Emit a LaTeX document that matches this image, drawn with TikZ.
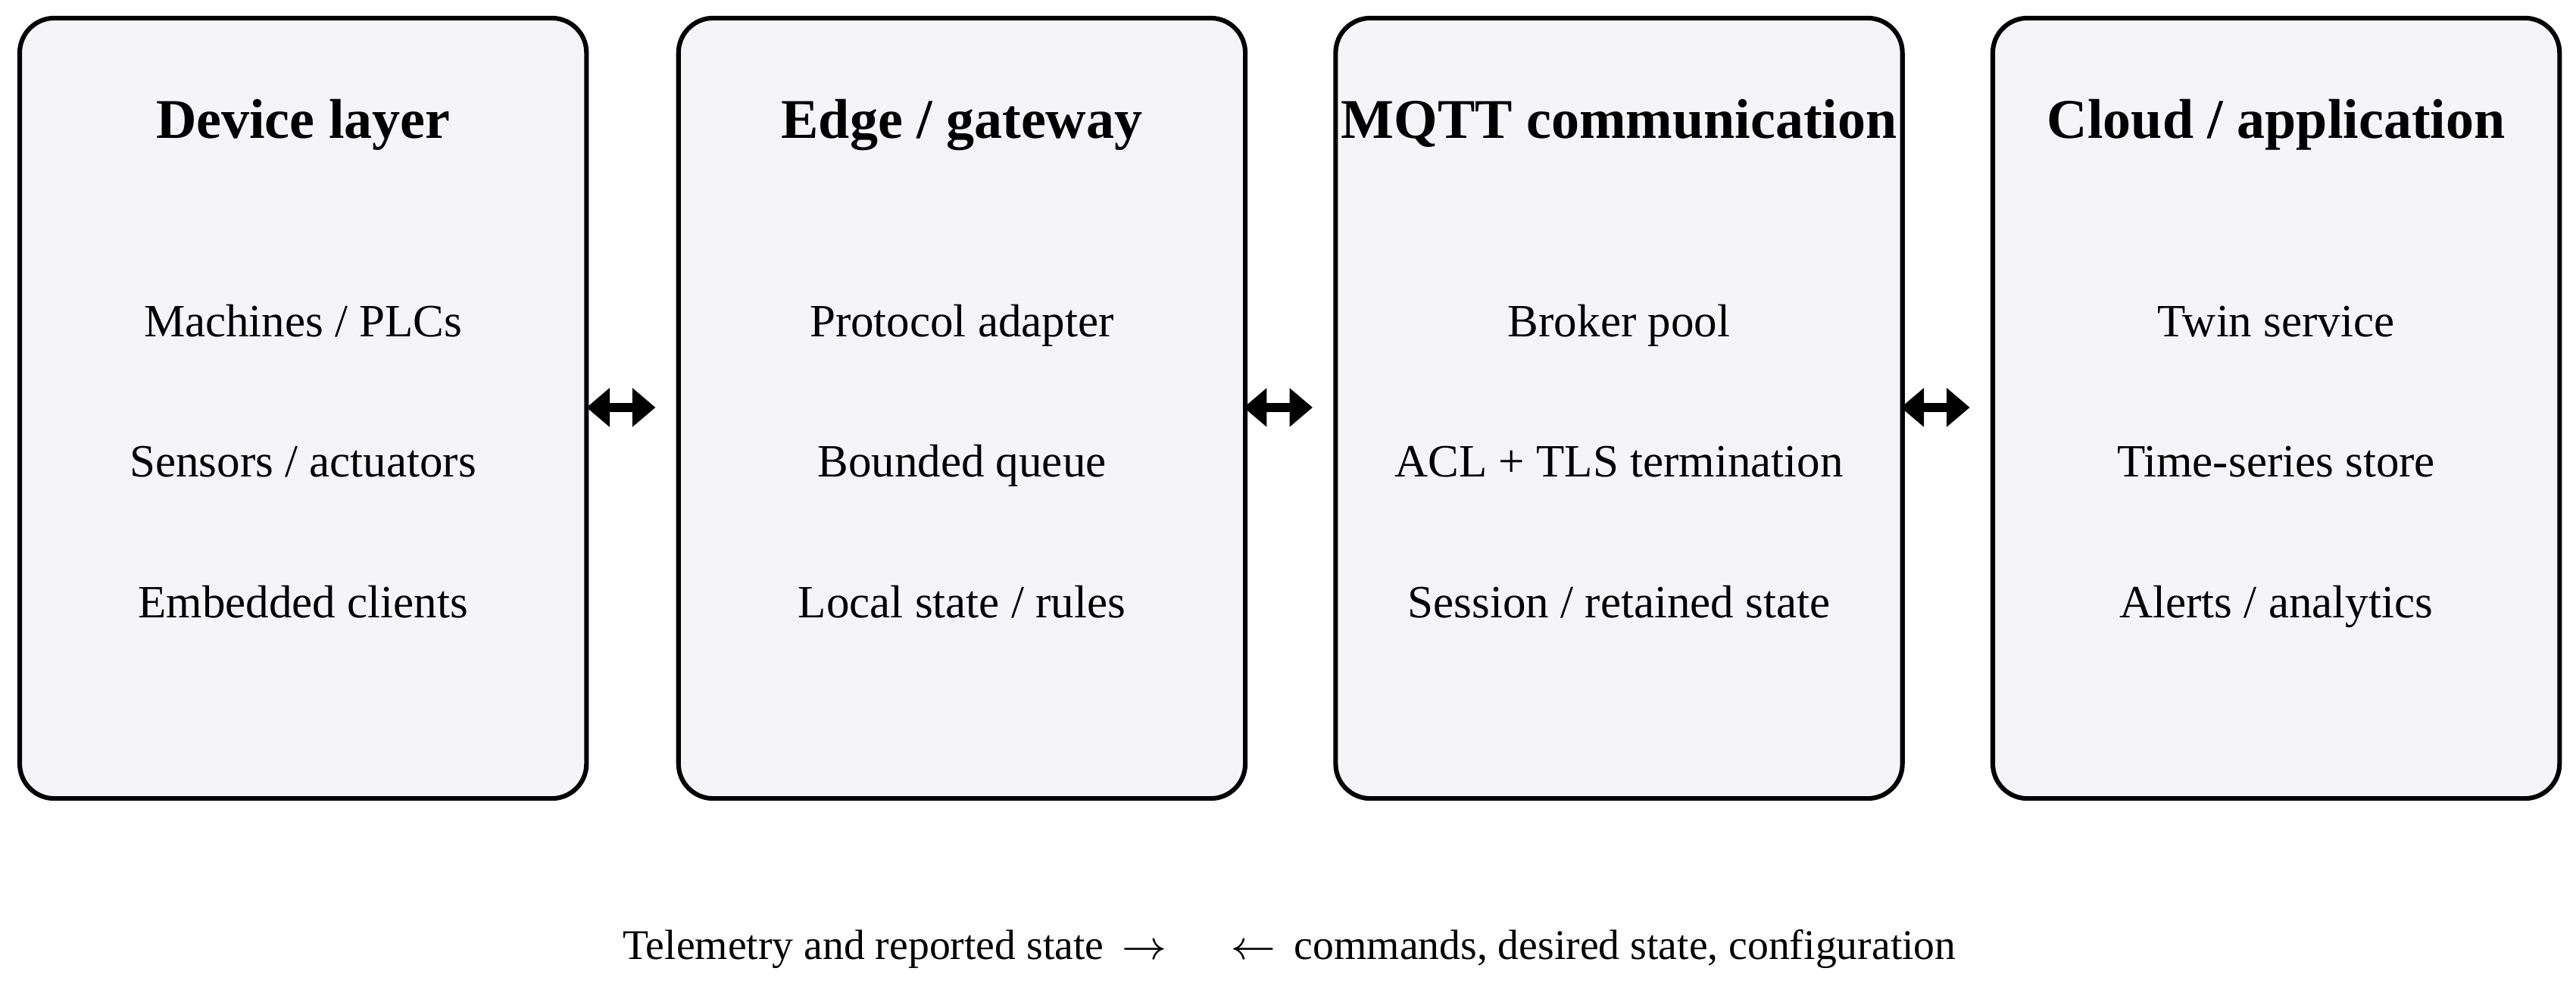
\documentclass[tikz,border=0pt]{standalone}
\usepackage{fontspec}
\setmainfont{Liberation Serif}
\usetikzlibrary{arrows.meta}
\newcommand{\slh}{/}
\definecolor{boxfill}{HTML}{F5F5F7}
\begin{document}
\begin{tikzpicture}[x=0.01cm,y=-0.01cm,
  box/.style={draw=black,line width=0.8pt,fill=boxfill,rounded corners=6pt},
  title/.style={font=\fontsize{9.7}{11}\selectfont\bfseries,anchor=base},
  item/.style={font=\fontsize{8}{10}\selectfont,anchor=base},
  link/.style={line width=1.5pt,{Triangle[length=4pt,width=6.5pt]}-{Triangle[length=4pt,width=6.5pt]}}]
\useasboundingbox (0,0) rectangle (1568,600.7);
\foreach \i/\x/\t/\a/\b/\c in {
 1/12/Device layer/Machines \slh\ PLCs/Sensors \slh\ actuators/Embedded clients,
 2/413/Edge \slh\ gateway/Protocol adapter/Bounded queue/Local state \slh\ rules,
 3/813/MQTT communication/Broker pool/ACL + TLS termination/Session \slh\ retained state,
 4/1213/Cloud \slh\ application/Twin service/Time-series store/Alerts \slh\ analytics}{
  \draw[box] (\x,11) rectangle (\x+345,486);
  \node[title] (t\i) at (\x+172.5,84) {\t};
  \node[item] (a\i) at (\x+172.5,205) {\a};
  \node[item] (m\i) at (\x+172.5,290) {\b};
  \node[item] (c\i) at (\x+172.5,376) {\c};
}
\coordinate (l1) at (357,248); \coordinate (r1) at (399,248);
\coordinate (l2) at (757,248); \coordinate (r2) at (799,248);
\coordinate (l3) at (1157,248); \coordinate (r3) at (1199,248);
\draw[link] (l1) -- (r1);
\draw[link] (l2) -- (r2);
\draw[link] (l3) -- (r3);
\node[item,font=\fontsize{7.3}{9}\selectfont] (cap) at (785,584) {Telemetry and reported state \,$\rightarrow$\hspace{1.5em}$\leftarrow$\, commands, desired state, configuration};
\end{tikzpicture}
\end{document}
